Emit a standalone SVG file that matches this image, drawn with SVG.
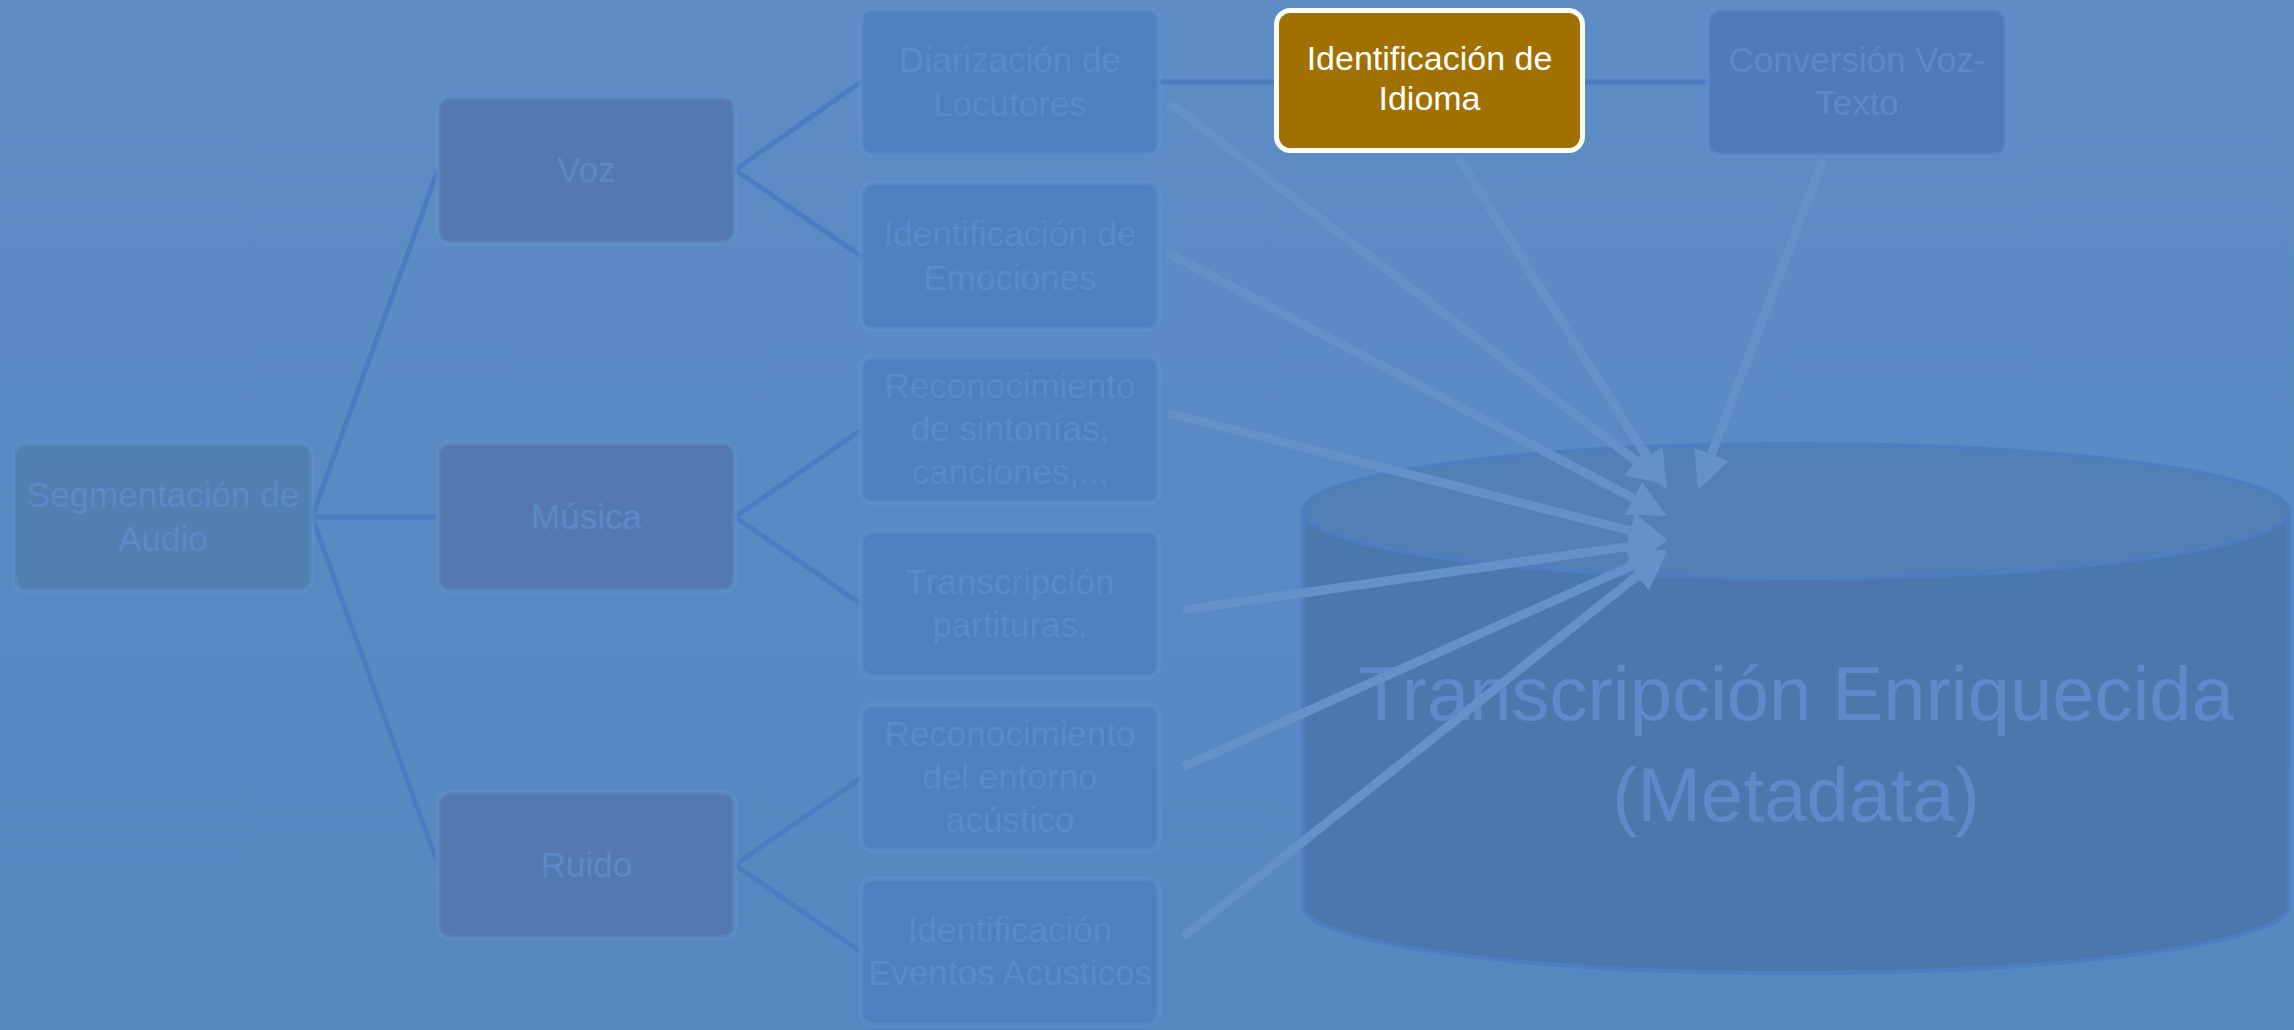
<svg xmlns="http://www.w3.org/2000/svg" width="2294" height="1030" viewBox="0 0 2294 1030">
  <defs>
    <linearGradient id="bg" x1="0" y1="0" x2="0" y2="1">
      <stop offset="0" stop-color="#5e8dc6"/>
      <stop offset="1" stop-color="#5687bf"/>
    </linearGradient>
    <marker id="head" markerUnits="userSpaceOnUse" viewBox="0 -20 40 40" refX="0" refY="0" markerWidth="40" markerHeight="40" orient="auto">
      <path d="M0,-18.5 L38,0 L0,18.5 z" fill="#6391ca"/>
    </marker>
    <style>
      text { font-family: "Liberation Sans", Arial, sans-serif; text-anchor: middle; }
      .box { stroke: #6494cf; stroke-opacity: 0.45; stroke-width: 5; }
      .root { fill: #4f80b1; }
      .cat { fill: #5479b0; }
      .task { fill: #4e80bd; }
      .conv { fill: #4f7ab8; }
      .hl { fill: #a07000; stroke: #ffffff; stroke-width: 5; }
      .t { font-size: 35px; fill: #5a8ac7; }
      .thl { font-size: 34px; fill: #ffffff; }
      .tree { stroke: #4b7cc0; stroke-width: 5; fill: none; }
      .arrow { stroke: #6391ca; stroke-width: 9; fill: none; marker-end: url(#head); }
      .big { font-size: 76px; fill: #5b8bc8; }
    </style>
  </defs>

  <rect x="0" y="0" width="2294" height="1030" fill="url(#bg)"/>

  <!-- tree and chain links (below the boxes) -->
  <g id="links">
    <path class="tree" d="M312,517 L438,170 M312,517 L438,517 M312,517 L438,865"/>
    <path class="tree" d="M735,170 L861,82 M735,170 L861,256"/>
    <path class="tree" d="M735,517 L861,430 M735,517 L861,604"/>
    <path class="tree" d="M735,865 L861,778 M735,865 L861,952"/>
    <path class="tree" d="M1159,82 L1276,82 M1583,82 L1708,82"/>
  </g>

  <!-- storage cylinder -->
  <g id="metadata">
    <path d="M1303,511 L1303,906 A493,67 0 0 0 2289,906 L2289,511 Z" fill="#4a78ad" stroke="#4c7ec0" stroke-width="4"/>
    <ellipse cx="1796" cy="511" rx="493" ry="67" fill="#5080b6" stroke="#4c7ec0" stroke-width="4"/>
    <text class="big" x="1796" y="720">Transcripción Enriquecida</text>
    <text class="big" x="1796" y="821">(Metadata)</text>
  </g>

  <g id="segmentacion">
    <rect class="box root" x="14" y="443" width="298" height="148" rx="12"/>
    <text class="t" x="163" y="507">Segmentación de</text>
    <text class="t" x="163" y="551">Audio</text>
  </g>

  <g id="voz">
    <rect class="box cat" x="438" y="97" width="297" height="146" rx="12"/>
    <text class="t" x="586.5" y="182" fill="#5c8bc8">Voz</text>
  </g>
  <g id="musica">
    <rect class="box cat" x="438" y="443" width="297" height="148" rx="12"/>
    <text class="t" x="586.5" y="529">Música</text>
  </g>
  <g id="ruido">
    <rect class="box cat" x="438" y="792" width="297" height="146" rx="12"/>
    <text class="t" x="586.5" y="877">Ruido</text>
  </g>

  <g id="diarizacion">
    <rect class="box task" x="861" y="9" width="298" height="146" rx="12"/>
    <text class="t" x="1010" y="72">Diarización de</text>
    <text class="t" x="1010" y="116">Locutores</text>
  </g>
  <g id="emociones">
    <rect class="box task" x="861" y="183" width="298" height="146" rx="12"/>
    <text class="t" x="1010" y="246">Identificación de</text>
    <text class="t" x="1010" y="290">Emociones</text>
  </g>
  <g id="sintonias">
    <rect class="box task" x="861" y="357" width="298" height="146" rx="12"/>
    <text class="t" x="1010" y="398">Reconocimiento</text>
    <text class="t" x="1010" y="441">de sintonías,</text>
    <text class="t" x="1010" y="484">canciones,...</text>
  </g>
  <g id="partituras">
    <rect class="box task" x="861" y="531" width="298" height="146" rx="12"/>
    <text class="t" x="1010" y="594">Transcripción</text>
    <text class="t" x="1010" y="637">partituras.</text>
  </g>
  <g id="entorno">
    <rect class="box task" x="861" y="705" width="298" height="146" rx="12"/>
    <text class="t" x="1010" y="746">Reconocimiento</text>
    <text class="t" x="1010" y="789">del entorno</text>
    <text class="t" x="1010" y="832">acústico</text>
  </g>
  <g id="eventos">
    <rect class="box task" x="861" y="879" width="298" height="146" rx="12"/>
    <text class="t" x="1010" y="942">Identificación</text>
    <text class="t" x="1010" y="985">Eventos Acústicos</text>
  </g>

  <g id="idioma">
    <rect class="hl" x="1276.5" y="10.5" width="306" height="140" rx="14"/>
    <text class="thl" x="1429.5" y="70">Identificación de</text>
    <text class="thl" x="1429.5" y="110">Idioma</text>
  </g>

  <g id="conversion">
    <rect class="box conv" x="1708" y="9" width="298" height="146" rx="12"/>
    <text class="t" x="1857" y="72">Conversión Voz-</text>
    <text class="t" x="1857" y="115">Texto</text>
  </g>

  <!-- feeds into the metadata store -->
  <g id="connectors">
    <path class="arrow" d="M1170,103 L1635.9,460.9"/>
    <path class="arrow" d="M1458,157 L1646.8,456.8"/>
    <path class="arrow" d="M1823,160 L1711.5,454.5"/>
    <path class="arrow" d="M1168,253 L1633.4,498.3"/>
    <path class="arrow" d="M1168,413 L1630.2,530.6"/>
    <path class="arrow" d="M1183,610 L1629.4,546.4"/>
    <path class="arrow" d="M1183,767 L1632.3,565.5"/>
    <path class="arrow" d="M1183,937 L1637.3,575.7"/>
  </g>
</svg>
